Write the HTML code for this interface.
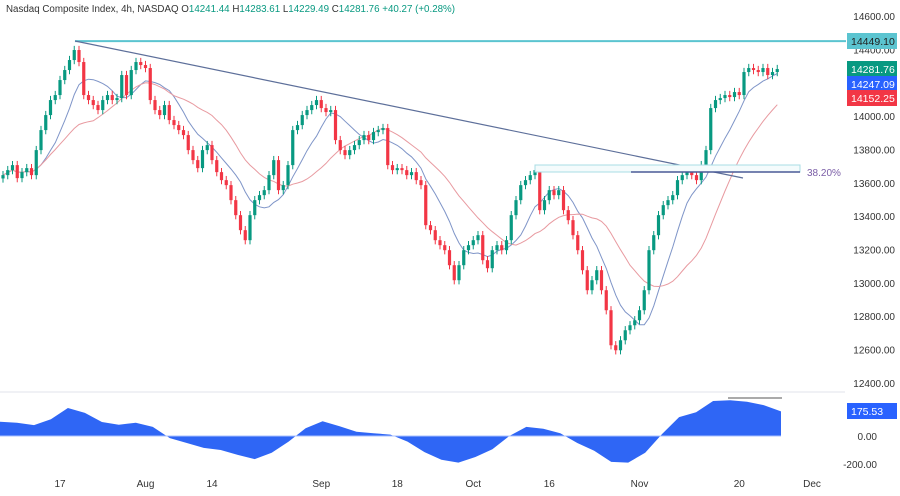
<!DOCTYPE html>
<html><head><meta charset="utf-8"><style>
html,body{margin:0;padding:0;background:#fff;}
body{width:900px;height:491px;overflow:hidden;font-family:"Liberation Sans",sans-serif;}
svg text{font-family:"Liberation Sans",sans-serif;}
</style></head><body>
<svg id="chart" width="900" height="491" viewBox="0 0 900 491" xmlns="http://www.w3.org/2000/svg">
<text x="6" y="12" font-size="10" fill="#333" textLength="449" lengthAdjust="spacingAndGlyphs">Nasdaq Composite Index, 4h, NASDAQ  <tspan fill="#333">O</tspan><tspan fill="#089981">14241.44</tspan>  <tspan fill="#333">H</tspan><tspan fill="#089981">14283.61</tspan>  <tspan fill="#333">L</tspan><tspan fill="#089981">14229.49</tspan>  <tspan fill="#333">C</tspan><tspan fill="#089981">14281.76</tspan>  <tspan fill="#089981">+40.27 (+0.28%)</tspan></text>
<g id="grid"></g>
<g id="osc"></g>
<g id="mas"></g>
<g id="candles"></g>
<g id="draw"></g>
<g id="axis"></g>
</svg>
<script>
const closes=[13646,13676,13706,13628,13664,13688,13646,13796,13916,14006,14096,14126,14216,14276,14336,14396,14324,14126,14096,14066,14036,14096,14126,14096,14108,14246,14126,14276,14324,14306,14288,14096,14036,14006,14066,13976,13946,13916,13886,13796,13736,13688,13796,13826,13736,13664,13616,13586,13496,13406,13316,13256,13406,13496,13526,13556,13646,13736,13556,13586,13706,13916,13946,14006,14036,14066,14096,14048,14024,14036,13856,13796,13766,13796,13826,13856,13886,13856,13904,13916,13928,13706,13676,13688,13676,13646,13664,13616,13586,13346,13316,13256,13226,13196,13106,13016,13106,13196,13226,13256,13286,13136,13088,13196,13226,13196,13256,13406,13496,13586,13616,13646,13676,13436,13496,13556,13526,13556,13436,13376,13286,13196,13076,12956,13016,13076,12956,12836,12626,12596,12656,12716,12746,12776,12836,12956,13196,13286,13406,13466,13496,13526,13616,13646,13664,13646,13616,13706,13796,14048,14096,14108,14126,14114,14144,14126,14264,14288,14276,14264,14288,14246,14264,14282];
const osc=[102,95,78,120,200,165,100,80,95,65,-15,-50,-85,-100,-135,-165,-120,-40,55,105,70,30,20,10,-40,-115,-170,-190,-150,-95,0,65,52,20,-50,-105,-185,-190,-120,15,135,170,250,255,245,220,176];
const priceTicks=[14600,14400,14000,13800,13600,13400,13200,13000,12800,12600,12400];
const oscTicks=[0,-200];
const dateLabels=["17","Aug","14","Sep","18","Oct","16","Nov","20","Dec"];
const dateIdx=[12,30,44,67,83,99,115,134,155,170];
const NS="http://www.w3.org/2000/svg";
const px=v=>16+(14600-v)*0.1668;
const cx=i=>3+i*4.75;
const oy=v=>436-v*0.14;
function mk(t,a,p){const e=document.createElementNS(NS,t);for(const k in a)e.setAttribute(k,a[k]);p.appendChild(e);return e;}
const G=id=>document.getElementById(id);
const sep=mk('line',{x1:0,x2:845,y1:392,y2:392,stroke:'#e0e3eb'},G('grid'));


closes.forEach((c,i)=>{
 const o=i?closes[i-1]:c-20;
 const up=c>=o;const col=up?'#089981':'#f23645';
 const g=mk('g',{},G('candles'));
 
 
 const hi=Math.max(o,c)+25,lo=Math.min(o,c)-25;
 mk('line',{x1:cx(i),x2:cx(i),y1:px(hi),y2:px(lo),stroke:col,'stroke-width':1},g);
 const t=px(Math.max(o,c)),b=px(Math.min(o,c));
 mk('rect',{x:cx(i)-1.6,y:t,width:3.2,height:Math.max(1,b-t),fill:col},g);
});
function sma(n,col,name){let d='';closes.forEach((c,i)=>{const s=closes.slice(Math.max(0,i-n+1),i+1);const m=s.reduce((a,b)=>a+b,0)/s.length;d+=(i?'L':'M')+cx(i).toFixed(1)+' '+px(m).toFixed(1);});
 const p=mk('path',{d:d,fill:'none',stroke:col,'stroke-width':1},G('mas'));
 
 }
sma(9,'#7f95c8','fast-moving-average');
sma(20,'#e89aa0','slow-moving-average');
const ox=i=>i*(781/(osc.length-1));
let d='M0 436';osc.forEach((v,i)=>{d+='L'+ox(i).toFixed(1)+' '+oy(v).toFixed(1);});d+='L781 436Z';
const oa=mk('path',{d:d,fill:'#2f66f5','stroke-linejoin':'round'},G('osc'));


const zl=mk('line',{x1:0,x2:781,y1:436,y2:436,stroke:'#a9c0ff'},G('osc'));


const ol=mk('line',{x1:728,x2:782,y1:398,y2:398,stroke:'#555'},G('osc'));


const dr=G('draw');
const hl=mk('line',{x1:75,x2:846,y1:px(14449.1),y2:px(14449.1),stroke:'#5bc4d0','stroke-width':2},dr);


const tl=mk('line',{x1:75,y1:41,x2:743,y2:178,stroke:'#5d6f9a','stroke-width':1.2},dr);


const fb=mk('rect',{x:535,y:165,width:265,height:7,fill:'#f4fbfc',stroke:'#a8dce4','stroke-width':1},dr);


const fl=mk('line',{x1:631,x2:800,y1:172,y2:172,stroke:'#4a5a96','stroke-width':1.5},dr);


const ft=mk('text',{x:807,y:176,'font-size':10,fill:'#7b5ea7'},dr);ft.textContent='38.20%';


const ax=G('axis');
priceTicks.forEach(v=>{const t=mk('text',{x:895,y:px(v)+4,'font-size':10,fill:'#333','text-anchor':'end'},ax);t.textContent=v.toFixed(2);
 
 });
oscTicks.forEach(v=>{const t=mk('text',{x:877,y:oy(v)+4,'font-size':10,fill:'#333','text-anchor':'end'},ax);t.textContent=v.toFixed(2);
 
 });
dateLabels.forEach((s,k)=>{const x=k===dateLabels.length-1?812:cx(dateIdx[k]);const t=mk('text',{x:x,y:487,'font-size':10,fill:'#333','text-anchor':'middle'},ax);t.textContent=s;
 
 });
function badge(v,y,col,name,tc,w){const g=mk('g',{},ax);
 
 
 mk('rect',{x:847,y:y-8,width:w||50,height:16,fill:col},g);
 const t=mk('text',{x:851,y:y+4,'font-size':10.5,fill:tc||'#fff'},g);t.textContent=v;}
badge('14449.10',41,'#5bc4d0','resistance-price-label','#222');
badge('14281.76',69,'#089981','last-price-label');
badge('14247.09',84,'#2962ff','fast-ma-label');
badge('14152.25',98,'#f23645','slow-ma-label');
badge('175.53',411,'#2962ff','oscillator-value-label');
</script>
</body></html>
